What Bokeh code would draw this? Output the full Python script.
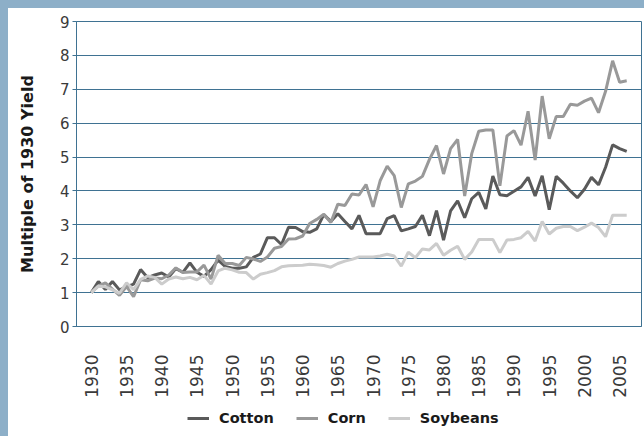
import math
from bokeh.plotting import figure
from bokeh.layouts import column
from bokeh.models import Legend, LegendItem, FixedTicker, Range1d, GlobalInlineStyleSheet
from bokeh.embed import file_html
from bokeh.resources import INLINE

years = list(range(1930, 2007))

cotton = [1.00, 1.33, 1.09, 1.33, 1.08, 1.17, 1.25, 1.68, 1.44, 1.52,
          1.58, 1.46, 1.71, 1.60, 1.88, 1.60, 1.48, 1.68, 1.96, 1.77,
          1.72, 1.72, 1.76, 2.04, 2.14, 2.62, 2.62, 2.42, 2.93, 2.92,
          2.80, 2.78, 2.88, 3.30, 3.10, 3.33, 3.10, 2.88, 3.28, 2.74,
          2.74, 2.74, 3.18, 3.27, 2.82, 2.88, 2.95, 3.28, 2.68, 3.42,
          2.55, 3.41, 3.71, 3.21, 3.77, 3.96, 3.47, 4.44, 3.89, 3.86,
          3.99, 4.12, 4.40, 3.85, 4.45, 3.45, 4.43, 4.23, 4.00, 3.80,
          4.05, 4.40, 4.18, 4.70, 5.36, 5.25, 5.17]

corn = [1.00, 1.20, 1.29, 1.10, 0.92, 1.18, 0.88, 1.38, 1.35, 1.43,
        1.41, 1.52, 1.73, 1.59, 1.61, 1.61, 1.81, 1.40, 2.10, 1.86,
        1.86, 1.80, 2.04, 1.99, 1.92, 2.05, 2.31, 2.36, 2.58, 2.59,
        2.67, 3.04, 3.16, 3.31, 3.07, 3.61, 3.57, 3.91, 3.88, 4.19,
        3.53, 4.30, 4.73, 4.45, 3.51, 4.21, 4.29, 4.43, 4.93, 5.34,
        4.50, 5.25, 5.52, 3.85, 5.10, 5.76, 5.80, 5.80, 4.15, 5.62,
        5.78, 5.35, 6.35, 4.91, 6.80, 5.54, 6.20, 6.20, 6.56, 6.53,
        6.65, 6.74, 6.31, 6.94, 7.84, 7.21, 7.25]

soybeans = [1.00, 1.19, 1.17, 1.08, 0.98, 1.29, 1.09, 1.39, 1.49, 1.45,
            1.25, 1.40, 1.46, 1.41, 1.45, 1.38, 1.51, 1.25, 1.64, 1.72,
            1.67, 1.60, 1.59, 1.40, 1.54, 1.59, 1.65, 1.76, 1.79, 1.80,
            1.81, 1.84, 1.82, 1.80, 1.75, 1.86, 1.93, 1.98, 2.05, 2.05,
            2.05, 2.08, 2.13, 2.08, 1.78, 2.19, 2.03, 2.29, 2.26, 2.45,
            2.10, 2.25, 2.37, 1.98, 2.20, 2.57, 2.57, 2.57, 2.18, 2.55,
            2.57, 2.62, 2.81, 2.52, 3.10, 2.73, 2.90, 2.95, 2.95, 2.83,
            2.93, 3.05, 2.92, 2.65, 3.28, 3.28, 3.28]

series_names = ["Cotton", "Corn", "Soybeans"]
series_colors = ["#5a5a5a", "#999999", "#cccccc"]
series_values = [cotton, corn, soybeans]
y_ticks = list(range(0, 10))
x_ticks = list(range(1930, 2006, 5))
y_label = "Multiple of 1930 Yield"

GRID = "#3f7292"
FONT = "DejaVu Sans"

p = figure(width=636, height=392, output_backend="svg", toolbar_location=None,
           x_range=Range1d(1927.9, 2008.1), y_range=Range1d(0, 9),
           min_border_left=68, min_border_right=3, min_border_top=13,
           min_border_bottom=72)
p.background_fill_color = "white"
p.border_fill_color = "white"
p.outline_line_color = GRID
p.outline_line_width = 1

for vals, col in zip(series_values, series_colors):
    p.line(years, vals, line_color=col, line_width=3)

p.xgrid.visible = False
p.ygrid.grid_line_color = GRID
p.ygrid.grid_line_width = 1
p.yaxis.ticker = FixedTicker(ticks=y_ticks)
p.xaxis.ticker = FixedTicker(ticks=x_ticks)

p.yaxis.axis_line_color = GRID
p.yaxis.major_tick_line_color = GRID
p.yaxis.major_tick_out = 4
p.yaxis.major_tick_in = 0
p.yaxis.minor_tick_line_color = None
p.yaxis.major_label_standoff = 3
p.yaxis.major_label_text_font = FONT
p.yaxis.major_label_text_font_size = "15px"
p.yaxis.major_label_text_color = "#3a3a3a"
p.yaxis.axis_label = y_label
p.yaxis.axis_label_text_font = FONT
p.yaxis.axis_label_text_font_style = "bold"
p.yaxis.axis_label_text_font_size = "16px"
p.yaxis.axis_label_text_color = "#1a1a1a"
p.yaxis.axis_label_standoff = 20

p.xaxis.axis_line_color = GRID
p.xaxis.major_tick_line_color = None
p.xaxis.minor_tick_line_color = None
p.xaxis.major_label_orientation = math.pi / 2
p.xaxis.major_label_standoff = 22
p.xaxis.major_label_text_font = FONT
p.xaxis.major_label_text_font_size = "17px"
p.xaxis.major_label_text_color = "#3a3a3a"

# legend strip below the chart (series drawn out of its view, used only as legend keys)
lf = figure(width=636, height=36, output_backend="svg", toolbar_location=None,
            x_range=Range1d(0, 1), y_range=Range1d(0, 1),
            min_border_left=0, min_border_right=0, min_border_top=0, min_border_bottom=0)
lf.axis.visible = False
lf.grid.visible = False
lf.outline_line_color = None
lf.background_fill_color = "white"
lf.border_fill_color = "white"
legend_renderers = [lf.line(years, vals, line_color=col, line_width=3)
                    for vals, col in zip(series_values, series_colors)]

legend = Legend(items=[LegendItem(label=n, renderers=[r]) for n, r in zip(series_names, legend_renderers)],
                orientation="horizontal", location=(111, 10), margin=0, padding=0,
                spacing=22, glyph_width=22, glyph_height=16, label_standoff=10,
                label_height=16, border_line_color=None, background_fill_alpha=0,
                label_text_font=FONT, label_text_font_style="bold",
                label_text_font_size="14.5px", label_text_color="#1a1a1a")
lf.add_layout(legend, "center")

layout = column(p, lf, spacing=0, styles={"background-color": "white"})
layout.stylesheets = [GlobalInlineStyleSheet(
    css="html,body{background:#8DAFC8;} body{margin:8px 0 0 8px !important;overflow:hidden;}")]

open("out.html", "w").write(file_html(layout, INLINE))
